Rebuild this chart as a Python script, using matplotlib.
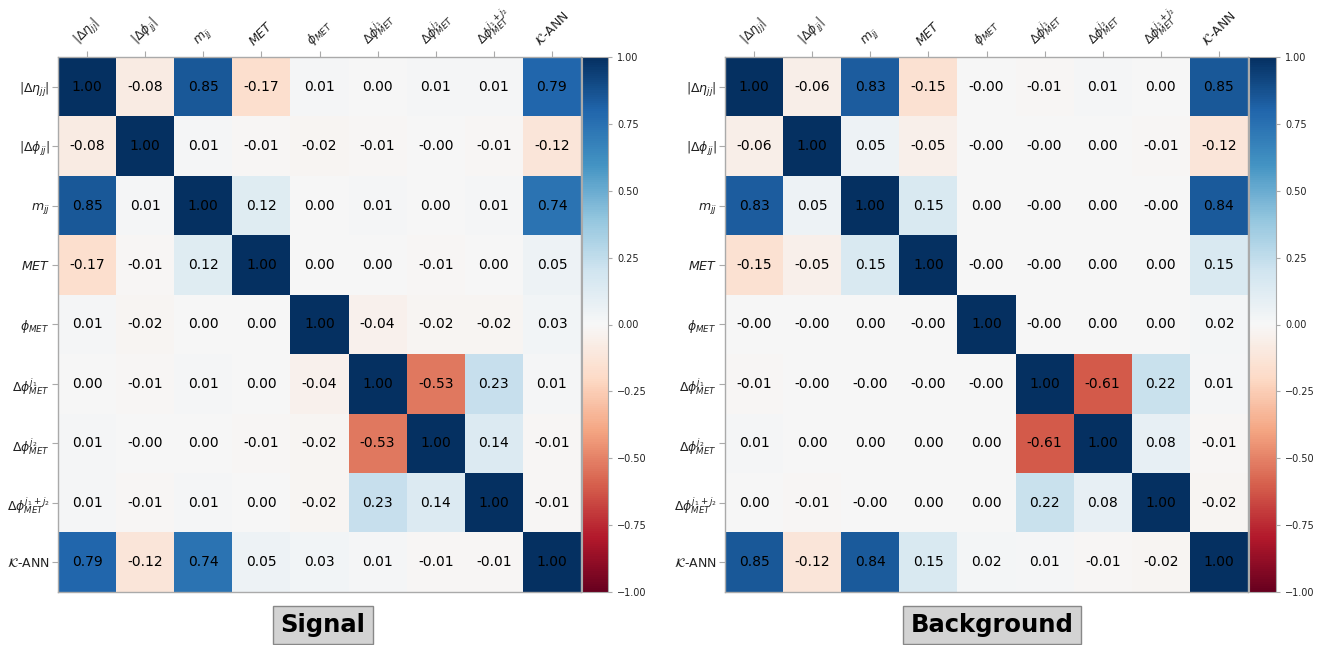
import numpy as np
import matplotlib
matplotlib.use("Agg")
import matplotlib.pyplot as plt

labels = [
    r"$|\Delta\eta_{jj}|$",
    r"$|\Delta\phi_{jj}|$",
    r"$m_{jj}$",
    r"$MET$",
    r"$\phi_{MET}$",
    r"$\Delta\phi^{j_1}_{MET}$",
    r"$\Delta\phi^{j_2}_{MET}$",
    r"$\Delta\phi^{j_1+j_2}_{MET}$",
    r"$\mathcal{K}$-ANN",
]

signal_corr = [
    [1.00, -0.08, 0.85, -0.17, 0.01, 0.00, 0.01, 0.01, 0.79],
    [-0.08, 1.00, 0.01, -0.01, -0.02, -0.01, -0.0, -0.01, -0.12],
    [0.85, 0.01, 1.00, 0.12, 0.00, 0.01, 0.00, 0.01, 0.74],
    [-0.17, -0.01, 0.12, 1.00, 0.00, 0.00, -0.01, 0.00, 0.05],
    [0.01, -0.02, 0.00, 0.00, 1.00, -0.04, -0.02, -0.02, 0.03],
    [0.00, -0.01, 0.01, 0.00, -0.04, 1.00, -0.53, 0.23, 0.01],
    [0.01, -0.0, 0.00, -0.01, -0.02, -0.53, 1.00, 0.14, -0.01],
    [0.01, -0.01, 0.01, 0.00, -0.02, 0.23, 0.14, 1.00, -0.01],
    [0.79, -0.12, 0.74, 0.05, 0.03, 0.01, -0.01, -0.01, 1.00],
]

background_corr = [
    [1.00, -0.06, 0.83, -0.15, -0.0, -0.01, 0.01, 0.00, 0.85],
    [-0.06, 1.00, 0.05, -0.05, -0.0, -0.0, 0.00, -0.01, -0.12],
    [0.83, 0.05, 1.00, 0.15, 0.00, -0.0, 0.00, -0.0, 0.84],
    [-0.15, -0.05, 0.15, 1.00, -0.0, -0.0, 0.00, 0.00, 0.15],
    [-0.0, -0.0, 0.00, -0.0, 1.00, -0.0, 0.00, 0.00, 0.02],
    [-0.01, -0.0, -0.0, -0.0, -0.0, 1.00, -0.61, 0.22, 0.01],
    [0.01, 0.00, 0.00, 0.00, 0.00, -0.61, 1.00, 0.08, -0.01],
    [0.00, -0.01, -0.0, 0.00, 0.00, 0.22, 0.08, 1.00, -0.02],
    [0.85, -0.12, 0.84, 0.15, 0.02, 0.01, -0.01, -0.02, 1.00],
]

panel_titles = ["Signal", "Background"]
cbar_ticks = [1.0, 0.75, 0.5, 0.25, 0.0, -0.25, -0.5, -0.75, -1.0]

W, H = 1317, 645
fig = plt.figure(figsize=(W / 100, H / 100), dpi=100)


def frac(x0, x1, y0, y1):
    return [x0 / W, 1 - y1 / H, (x1 - x0) / W, (y1 - y0) / H]


spine_col = "#aaaaaa"
layouts = [
    dict(ax=frac(58, 581, 57, 592), cb=frac(582, 608, 57, 592), title_x=323),
    dict(ax=frac(725, 1248, 57, 592), cb=frac(1249, 1276, 57, 592), title_x=992),
]

for mat, title, lay in zip([signal_corr, background_corr], panel_titles, layouts):
    data = np.array(mat)
    ax = fig.add_axes(lay["ax"])
    im = ax.imshow(data, cmap="RdBu", vmin=-1, vmax=1, aspect="auto",
                   interpolation="nearest")
    n = len(labels)
    for i in range(n):
        for j in range(n):
            ax.text(j, i, f"{data[i, j]:.2f}", ha="center", va="center",
                    fontsize=10, color="black")
    ax.set_xticks(range(n))
    ax.set_yticks(range(n))
    ax.xaxis.tick_top()
    ax.set_xticklabels(labels, rotation=45, fontsize=9)
    ax.set_yticklabels(labels, fontsize=9)
    ax.tick_params(axis="both", colors=spine_col, labelcolor="#222222",
                   length=4, width=0.8, pad=2)
    for s in ax.spines.values():
        s.set_color(spine_col)
        s.set_linewidth(1.0)

    cax = fig.add_axes(lay["cb"])
    cb = fig.colorbar(im, cax=cax, ticks=cbar_ticks)
    cb.ax.set_yticklabels([f"{t:.2f}".replace("-", "\u2212") for t in cbar_ticks])
    cb.ax.tick_params(labelsize=7, colors=spine_col, labelcolor="#222222",
                      length=3, width=0.8)
    cb.outline.set_edgecolor(spine_col)

    fig.text(lay["title_x"] / W, 1 - 625 / H, title, ha="center", va="center",
             fontsize=17.5, fontweight="bold", color="black",
             bbox=dict(boxstyle="square,pad=0.3", facecolor="#d3d3d3",
                       edgecolor="#888888", linewidth=1.0))

fig.savefig("out.png", dpi=100)
